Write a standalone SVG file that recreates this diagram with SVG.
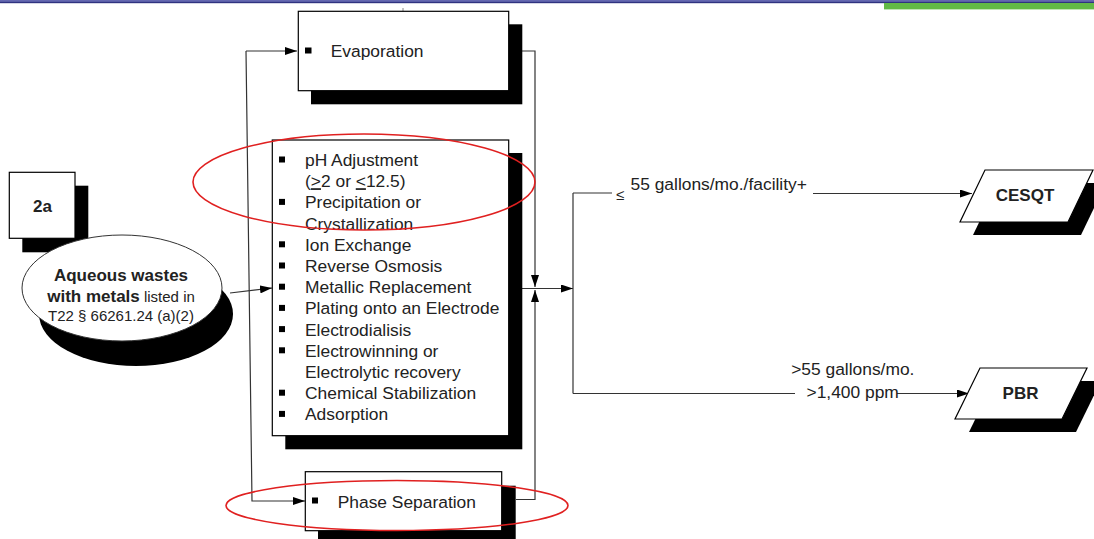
<svg xmlns="http://www.w3.org/2000/svg" width="1094" height="539" viewBox="0 0 1094 539">
<defs>
<marker id="ah" viewBox="0 0 12 8" refX="12" refY="4" markerWidth="12" markerHeight="8" markerUnits="userSpaceOnUse" orient="auto">
<path d="M0,0 L12,4 L0,8 Z" fill="#000"/>
</marker>
</defs>
<style>
text{font-family:"Liberation Sans",Arial,sans-serif;fill:#222;}
.t{font-size:17.4px;}
.b{font-size:17px;font-weight:bold;}
.box{fill:#fff;stroke:#000;stroke-width:1.2;}
.sh{fill:#000;}
.con{fill:none;stroke:#333;stroke-width:1.2;}
.red{fill:none;stroke:#e02020;stroke-width:1.6;}
.bul{fill:#000;}
</style>
<rect x="0" y="0" width="1094" height="540" fill="#fff"/>
<rect x="0" y="0" width="1094" height="2.2" fill="#6468b0"/>
<rect x="0" y="1.8" width="1094" height="1.4" fill="#2f3380"/>
<rect x="884" y="3" width="210" height="6.4" fill="#62b946"/>
<line x1="403" y1="8" x2="403" y2="12" stroke="#888" stroke-width="1"/>

<g id="connectors">
<path class="con" d="M230,293 L272,288" marker-end="url(#ah)"/>
<path class="con" d="M246,51 H297" marker-end="url(#ah)"/>
<path class="con" d="M246,51 L252,501 H305" marker-end="url(#ah)"/>
<path class="con" d="M522,51 H535 V287" marker-end="url(#ah)"/>
<path class="con" d="M516,499.5 H535 V290" marker-end="url(#ah)"/>
<path class="con" d="M522,288.5 H573" marker-end="url(#ah)"/>
<path class="con" d="M573,193 V393.5"/>
<path class="con" d="M573,193 H612"/>
<path class="con" d="M813,193.5 H972" marker-end="url(#ah)"/>
<path class="con" d="M573,393.5 H795"/>
<path class="con" d="M897,393.5 H969" marker-end="url(#ah)"/>
<text x="616" y="200" style="font-size:15px">≤</text>
<text x="630.5" y="189.5" class="t">55 gallons/mo./facility+</text>
<text x="852.8" y="375" class="t" text-anchor="middle">&gt;55 gallons/mo.</text>
<text x="806.5" y="397.5" class="t">&gt;1,400 ppm</text>
</g>

<g id="node-2a">
<rect class="sh" x="22.3" y="185.7" width="66" height="66.6"/>
<rect class="box" x="9.3" y="172.3" width="65.7" height="66"/>
<text x="42.5" y="211.5" class="b" text-anchor="middle">2a</text>
</g>

<g id="node-aqueous">
<ellipse class="sh" cx="136" cy="314" rx="97" ry="52"/>
<ellipse cx="122" cy="288" rx="100" ry="53" fill="#fff" stroke="#333" stroke-width="1"/>
<text x="121" y="281" class="b" text-anchor="middle">Aqueous wastes</text>
<text x="121" y="302" text-anchor="middle"><tspan class="b">with metals</tspan><tspan style="font-size:15px"> listed in</tspan></text>
<text x="121" y="321" text-anchor="middle" style="font-size:15px">T22 § 66261.24 (a)(2)</text>
</g>

<g id="node-evaporation">
<rect class="sh" x="311" y="24.3" width="211.3" height="80"/>
<rect class="box" x="298.3" y="11.3" width="210.4" height="79.4"/>
<rect class="bul" x="305" y="47.5" width="6.5" height="6"/>
<text x="330.7" y="56.7" class="t">Evaporation</text>
</g>

<g id="node-treatments">
<rect class="sh" x="285.3" y="153" width="237" height="296.3"/>
<rect class="box" x="272.3" y="140" width="236.4" height="295.7"/>
<g class="bul">
<rect x="279" y="156.5" width="6" height="6"/>
<rect x="279" y="198.9" width="6" height="6"/>
<rect x="279" y="241.3" width="6" height="6"/>
<rect x="279" y="262.5" width="6" height="6"/>
<rect x="279" y="283.7" width="6" height="6"/>
<rect x="279" y="304.9" width="6" height="6"/>
<rect x="279" y="326.1" width="6" height="6"/>
<rect x="279" y="347.3" width="6" height="6"/>
<rect x="279" y="389.7" width="6" height="6"/>
<rect x="279" y="410.9" width="6" height="6"/>
</g>
<text x="305" y="166" class="t">pH Adjustment</text>
<text x="305" y="187.2" class="t">(<tspan text-decoration="underline">&gt;</tspan>2 or <tspan text-decoration="underline">&lt;</tspan>12.5)</text>
<text x="305" y="208.4" class="t">Precipitation or</text>
<text x="305" y="229.6" class="t">Crystallization</text>
<text x="305" y="250.8" class="t">Ion Exchange</text>
<text x="305" y="272" class="t">Reverse Osmosis</text>
<text x="305" y="293.2" class="t">Metallic Replacement</text>
<text x="305" y="314.4" class="t">Plating onto an Electrode</text>
<text x="305" y="335.6" class="t">Electrodialisis</text>
<text x="305" y="356.8" class="t">Electrowinning or</text>
<text x="305" y="378" class="t">Electrolytic recovery</text>
<text x="305" y="399.2" class="t">Chemical Stabilization</text>
<text x="305" y="420.4" class="t">Adsorption</text>
</g>

<g id="node-phase">
<rect class="sh" x="318" y="485.7" width="197.7" height="60"/>
<rect class="box" x="305.3" y="471.7" width="196.4" height="59"/>
<rect class="bul" x="312" y="497.5" width="6" height="6"/>
<text x="337.7" y="507.7" class="t">Phase Separation</text>
</g>

<g id="node-cesqt">
<polygon class="sh" points="998,183 1106,183 1081,235 973,235"/>
<polygon class="box" points="985,170 1093,170 1068,222 960,222"/>
<text x="1025" y="201" class="b" text-anchor="middle">CESQT</text>
</g>

<g id="node-pbr">
<polygon class="sh" points="994,381 1101,381 1076,432 969,432"/>
<polygon class="box" points="980,368 1087,368 1062,419 955,419"/>
<text x="1020.5" y="398.5" class="b" text-anchor="middle">PBR</text>
</g>

<g id="highlights">
<ellipse class="red" cx="364" cy="182" rx="171" ry="48"/>
<ellipse class="red" cx="397" cy="505.5" rx="171" ry="25"/>
</g>
</svg>
